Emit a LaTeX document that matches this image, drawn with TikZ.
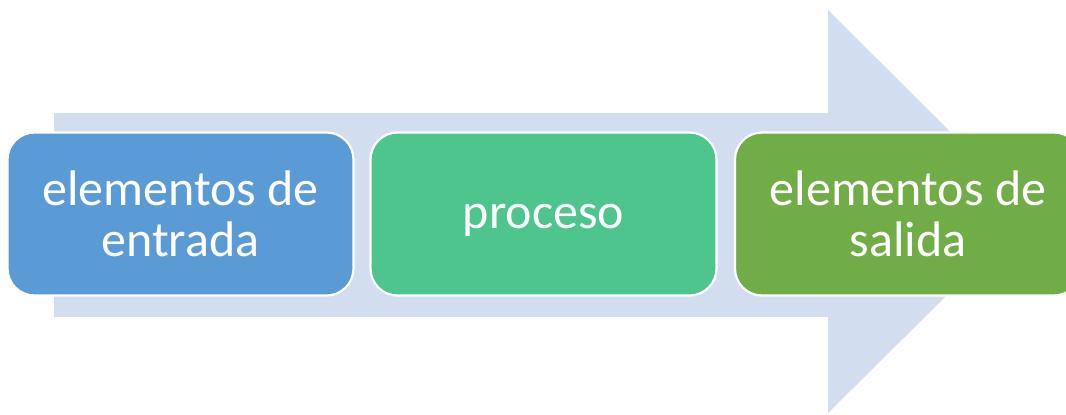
\documentclass[tikz,border=0pt]{standalone}
\usepackage{fontspec}
\setmainfont{Carlito}
\definecolor{arrowfill}{HTML}{D2DDEF}
\definecolor{boxblue}{HTML}{5B9BD5}
\definecolor{boxgreen}{HTML}{4EC58C}
\definecolor{boxolive}{HTML}{70AD47}
\tikzset{
  procbox/.style={rectangle, rounded corners=27pt, minimum width=346pt, minimum height=163pt,
    draw=white, line width=2.2pt, text=white, align=center,
    font=\fontsize{50}{51}\selectfont, inner sep=0pt}
}
\begin{document}
\begin{tikzpicture}[x=1pt,y=-1pt]
\useasboundingbox (0,0) rectangle (1066,415);
\clip (0,0) rectangle (1066,415);
\fill[arrowfill] (54,113) -- (828,113) -- (828,10) -- (1031,212) -- (828,413) -- (828,317) -- (54,317) -- cycle;
\node[procbox, fill=boxblue] (entrada) at (180.5,214) {elementos de\\entrada};
\node[procbox, fill=boxgreen] (proceso) at (543.5,214) {\raisebox{-6pt}[\height][\depth]{proceso}};
\node[procbox, fill=boxolive] (salida) at (908,214) {elementos de\\salida};
\end{tikzpicture}
\end{document}
